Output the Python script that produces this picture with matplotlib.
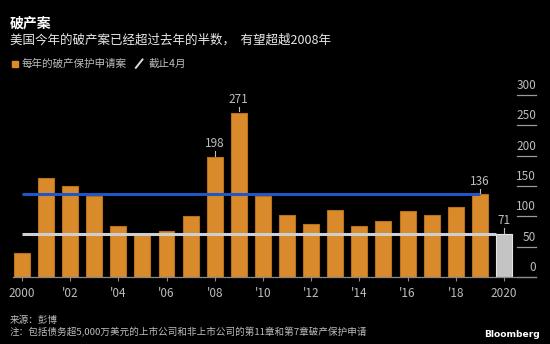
import numpy as np
import matplotlib as mpl
mpl.use("Agg")
import matplotlib.pyplot as plt
import matplotlib.transforms as mtrans

plt.rcParams['font.family'] = ['Noto Sans CJK SC', 'DejaVu Sans']

years = list(range(2000, 2021))
cases = [40, 164, 150, 134, 84, 69, 75, 100, 198, 271, 134,
         103, 88, 111, 84, 93, 109, 103, 115, 136, 71]
labeled = {2008: 198, 2009: 271, 2019: 136, 2020: 71}
xtick_years = list(range(2000, 2021, 2))
xtick_labels = ["2000", "'02", "'04", "'06", "'08", "'10", "'12", "'14", "'16", "'18", "2020"]
yticks = [0, 50, 100, 150, 200, 250, 300]

BG = "black"
ORANGE = "#d98b2c"
ORANGE_EDGE = "#b8701c"
GREY_BAR = "#c4c4c4"
BLUE = "#2157c4"
TXT = "#bdbdbd"

fig = plt.figure(figsize=(5.5, 3.44), dpi=100, facecolor=BG)
ax = fig.add_axes([0.0236, 0.1948, 0.951, 0.529], facecolor=BG)

colors = [ORANGE] * (len(years) - 1) + [GREY_BAR]
edges = [ORANGE_EDGE] * (len(years) - 1) + ["#e6e6e6"]
ax.bar(years, cases, width=0.66, color=colors, edgecolor=edges, linewidth=0.8, zorder=2)

# reference lines: 2019 level and 2020 level
ax.plot([2000, 2019], [136, 136], color=BLUE, lw=2.2, zorder=3, solid_capstyle='butt')
ax.plot([2000, 2019.67], [71, 71], color="#cfcfcf", lw=2.2, zorder=3, solid_capstyle='butt')

ax.set_xlim(1999.63, 2021.33)
ax.set_ylim(0, 300)

for s in ["top", "left", "right"]:
    ax.spines[s].set_visible(False)
ax.spines["bottom"].set_color("#8a8a8a")
ax.spines["bottom"].set_linewidth(0.9)

ax.set_xticks(xtick_years)
ax.set_xticklabels(xtick_labels, color=TXT, fontsize=8.5)
ax.tick_params(axis='x', length=3, color="#8a8a8a", width=0.8, pad=4)
ax.set_yticks([])

# right-side value ticks with labels above them
tr = mtrans.blended_transform_factory(ax.transAxes, ax.transData)
for v in yticks:
    ax.plot([0.9645, 1.0], [v, v], color="#9a9a9a", lw=0.9, transform=tr, clip_on=False)
    ax.text(1.0, v + 5, str(v), color=TXT, fontsize=8.5, ha='right', va='bottom',
            transform=tr)

# value callouts
for yr, v in labeled.items():
    ax.plot([yr, yr], [v + 2, v + 9], color=TXT, lw=0.8, clip_on=False, zorder=4)
    ax.text(yr, v + 11, str(v), color=TXT, fontsize=8.5, ha='center', va='bottom', clip_on=False)

fig.text(0.018, 0.932, "破产案", color="white", fontsize=10, fontweight='bold', va='center')
fig.text(0.018, 0.882, "美国今年的破产案已经超过去年的半数，  有望超越2008年", color="#e8e8e8",
         fontsize=9.0, va='center')

fig.patches.append(mpl.patches.Rectangle((0.022, 0.806), 0.011, 0.017, color=ORANGE,
                                         transform=fig.transFigure, figure=fig))
fig.text(0.04, 0.815, "每年的破产保护申请案", color=TXT, fontsize=7.6, va='center')
fig.lines.append(mpl.lines.Line2D([0.247, 0.259], [0.803, 0.827], color="#dddddd", lw=1.4,
                                  transform=fig.transFigure))
fig.text(0.270, 0.815, "截止4月", color=TXT, fontsize=7.6, va='center')

fig.text(0.018, 0.070, "来源：彭博", color=TXT, fontsize=6.9, va='center')
fig.text(0.018, 0.033, "注：包括债务超5,000万美元的上市公司和非上市公司的第11章和第7章破产保护申请",
         color=TXT, fontsize=6.9, va='center')
fig.text(0.981, 0.029, "Bloomberg", color="white", fontsize=6.6, fontweight='bold',
         ha='right', va='center', family='DejaVu Sans')

fig.savefig("out.png", dpi=100, facecolor=BG)
